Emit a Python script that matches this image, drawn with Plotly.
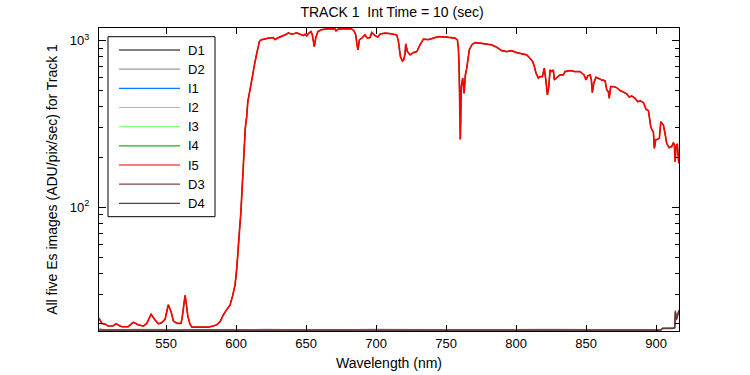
import math
import plotly.graph_objects as go

# ---------------- data ----------------
series_names = ["D1", "D2", "I1", "I2", "I3", "I4", "I5", "D3", "D4"]

es_wl = [
    502.1, 504.1, 506.4, 508.6, 512.1, 514.3, 517.1, 518.6, 522.9, 526.6,
    530.2, 533.8, 536.2, 539.3, 542.1, 544.5, 546.9, 549.3, 551.6, 553.6,
    555.2, 557.9, 560.7, 561.6, 562.9, 563.6, 564.3, 565.5, 567.1, 568.4,
    575.0, 580.2, 583.8, 586.2, 588.6, 590.9, 593.4, 595.7, 597.4, 599.3,
    600.5, 601.6, 602.4, 603.4, 604.1, 604.8, 605.2, 605.9, 606.6, 607.6,
    608.4, 609.3, 610.0, 610.7, 611.9, 612.9, 613.8, 614.8, 615.9, 616.6,
    617.9, 619.5, 620.7, 623.1, 626.6, 627.9, 630.2, 632.6, 635.0, 637.4,
    639.8, 643.4, 645.7, 648.1, 649.3, 650.5, 652.1, 653.6, 654.5, 655.2,
    655.9, 656.9, 658.4, 661.2, 665.9, 670.7, 671.4, 673.1, 682.6, 684.3,
    685.5, 686.4, 687.1, 688.1, 689.8, 692.1, 693.8, 695.7, 696.9, 699.3,
    701.2, 702.9, 706.4, 710.0, 713.6, 714.8, 715.9, 716.4, 717.4, 718.8,
    719.8, 720.7, 721.2, 722.4, 724.3, 726.6, 729.1, 731.4, 733.8, 737.4,
    740.9, 744.5, 750.5, 756.4, 758.1, 758.8, 759.3, 759.8, 760.2, 760.9,
    761.9, 762.9, 763.8, 764.8, 765.7, 766.6, 768.4, 770.7, 774.3, 779.1,
    782.6, 786.2, 789.8, 793.4, 796.9, 800.5, 804.1, 807.6, 810.0, 811.9,
    813.1, 814.3, 815.9, 817.1, 818.8, 820.2, 821.4, 822.4, 823.4, 824.3,
    825.5, 826.6, 827.4, 829.1, 831.4, 833.8, 835.0, 838.6, 842.1, 845.7,
    848.6, 850.0, 851.2, 852.9, 853.8, 854.5, 855.5, 857.1, 859.5, 861.2,
    863.6, 864.8, 865.9, 866.6, 867.6, 869.5, 871.9, 874.3, 876.6, 879.1,
    880.9, 882.6, 885.0, 886.9, 888.6, 891.0, 892.9, 894.5, 895.2, 896.2,
    897.1, 898.1, 898.8, 899.8, 901.2, 902.4, 903.4, 904.3, 905.2, 906.4,
    907.6, 909.3, 911.2, 912.4, 913.1, 913.6, 914.3, 915.2, 915.7, 916.2,
]

i5_values = [
    21.6, 20.1, 19.9, 19.4, 19.4, 20.0, 19.4, 19.2, 19.2, 20.4,
    19.7, 19.4, 20.1, 22.8, 21.1, 20.0, 20.3, 21.3, 26.0, 23.6,
    20.8, 20.1, 20.1, 22.0, 26.8, 29.6, 27.1, 22.3, 19.9, 19.1,
    19.1, 19.1, 19.4, 19.7, 20.6, 22.6, 24.4, 25.9, 29.1, 34.2,
    43.0, 54.1, 71.4, 92.0, 118.5, 156, 179, 237, 298, 350,
    430, 472, 518, 555, 622, 698, 784, 840, 920, 986,
    1010, 1020, 1020, 1034, 1042, 1014, 1042, 1057, 1082, 1112,
    1092, 1112, 1092, 1072, 1092, 1067, 1112, 1132, 1082, 965,
    920, 1034, 1132, 1164, 1176, 1176, 1143, 1176, 1176, 1143,
    1082, 942, 880, 1010, 1034, 1082, 1034, 1042, 1117, 1072,
    1048, 1095, 1108, 1102, 1092, 1082, 1000, 900, 802, 755,
    770, 830, 955, 859, 821, 847, 859, 942, 1020, 1014,
    1034, 1057, 1048, 1034, 1010, 900, 715, 298, 256, 530,
    595, 483, 622, 683, 766, 880, 942, 973, 965, 955,
    942, 913, 871, 859, 871, 847, 832, 821, 784, 748,
    698, 637, 595, 608, 608, 683, 568, 472, 530, 667,
    652, 667, 581, 595, 622, 622, 652, 661, 652, 652,
    622, 581, 614, 622, 581, 488, 555, 603, 590, 581,
    575, 506, 494, 451, 530, 530, 522, 501, 492, 479,
    458, 466, 451, 430, 436, 425, 387, 380, 350, 305,
    291, 284, 226, 254, 256, 260, 326, 319, 312, 278,
    242, 228, 231, 244, 237, 188, 231, 240, 197, 184,
]

# the other four illuminated images overlap I5 almost exactly
i1_values = i5_values
i2_values = i5_values
i3_values = i5_values
i4_values = i5_values

dark_wl = [502.1, 510, 530, 560, 590, 620, 660, 700, 740, 780,
           820, 860, 890, 903.5, 904.5, 912.0, 913.3, 913.8, 914.6, 915.4, 916.4]
d1_values = [18.5, 18.4, 18.4, 18.4, 18.4, 18.4, 18.4, 18.4, 18.4, 18.4,
             18.4, 18.4, 18.4, 18.4, 18.8, 18.8, 18.9, 23.5, 21.5, 22.5, 24.0]
d2_values = [18.5, 18.4, 18.5, 18.4, 18.4, 18.5, 18.4, 18.5, 18.4, 18.4,
             18.5, 18.4, 18.4, 18.4, 18.8, 18.8, 18.9, 23.0, 22.0, 22.0, 23.5]
d3_values = [18.4, 18.3, 18.4, 18.3, 18.4, 18.3, 18.4, 18.3, 18.4, 18.4,
             18.3, 18.4, 18.4, 18.4, 18.8, 18.8, 19.0, 24.0, 21.0, 23.0, 24.2]
d4_values = [18.3, 18.3, 18.3, 18.3, 18.3, 18.3, 18.3, 18.3, 18.3, 18.3,
             18.3, 18.3, 18.3, 18.3, 18.7, 18.7, 18.9, 23.8, 21.2, 22.8, 24.0]

x_tick_vals = [550, 600, 650, 700, 750, 800, 850, 900]
y_major_vals = [100, 1000]
y_major_text = ["10<sup>2</sup>", "10<sup>3</sup>"]
y_minor_vals = [20, 30, 40, 50, 60, 70, 80, 90, 200, 300, 400, 500, 600, 700, 800, 900]

x_range = [502.1, 916.4]
y_range_vals = [18.1, 1190]

# ---------------- styles ----------------
colors = {
    "D1": "#000000", "D2": "#999999", "I1": "#0a7cff", "I2": "#3fe3f5",
    "I3": "#80ff80", "I4": "#1fae1f", "I5": "#ff0000", "D3": "#7f4545",
    "D4": "#6a3a3a",
}
widths = {"D1": 1.2, "D2": 1.2, "I1": 1.0, "I2": 1.0, "I3": 1.0, "I4": 1.0,
          "I5": 1.7, "D3": 1.2, "D4": 1.2}
series_data = {
    "D1": (dark_wl, d1_values), "D2": (dark_wl, d2_values),
    "I1": (es_wl, i1_values), "I2": (es_wl, i2_values),
    "I3": (es_wl, i3_values), "I4": (es_wl, i4_values),
    "I5": (es_wl, i5_values),
    "D3": (dark_wl, d3_values), "D4": (dark_wl, d4_values),
}

FONT = "Liberation Sans, Arial, sans-serif"

fig = go.Figure()
for name in series_names:
    xs, ys = series_data[name]
    fig.add_trace(go.Scatter(
        x=xs, y=ys, mode="lines", name=name,
        line=dict(color=colors[name], width=widths[name]),
        showlegend=False,
    ))

# plot area geometry in pixels
W, H = 750, 375
L, R, T, B = 99, 679, 28, 331
pw, ph = R - L, B - T

def px_x(x):
    return (x - L) / pw

def px_y(y):
    return (B - y) / ph

# manual legend (MATLAB-style, long line samples)
leg_x0, leg_x1, leg_y0, leg_y1 = 108, 215, 36.7, 216.7
shapes = [dict(type="rect", xref="paper", yref="paper",
               x0=px_x(leg_x0), x1=px_x(leg_x1), y0=px_y(leg_y1), y1=px_y(leg_y0),
               line=dict(color="black", width=1), fillcolor="white", layer="above")]
annotations = []
for k, name in enumerate(series_names):
    yy = 50 + k * 19.17
    shapes.append(dict(type="line", xref="paper", yref="paper",
                       x0=px_x(119), x1=px_x(180), y0=px_y(yy), y1=px_y(yy),
                       line=dict(color=colors[name], width=1.2), layer="above"))
    annotations.append(dict(xref="paper", yref="paper", x=px_x(186), y=px_y(yy),
                            text=name, showarrow=False, xanchor="left", yanchor="middle",
                            font=dict(family=FONT, size=13, color="black")))

fig.update_layout(
    width=W, height=H,
    margin=dict(l=L, r=W - R, t=T, b=H - B, pad=0, autoexpand=False),
    paper_bgcolor="white", plot_bgcolor="white",
    font=dict(family=FONT, size=12, color="black"),
    title=dict(text="TRACK 1  Int Time = 10 (sec)", x=px_x(392), xref="paper",
               y=1 - 12.5 / H, yref="container", xanchor="center", yanchor="middle",
               font=dict(family=FONT, size=14, color="black")),
    shapes=shapes, annotations=annotations,
)

fig.update_xaxes(
    range=x_range, tickmode="array", tickvals=x_tick_vals,
    ticks="inside", ticklen=6, tickwidth=1, tickcolor="black",
    showline=True, linecolor="black", linewidth=1, mirror="ticks",
    showgrid=False, zeroline=False, automargin=False,
    tickfont=dict(family=FONT, size=13),
    title=dict(text="Wavelength (nm)", font=dict(family=FONT, size=14), standoff=8),
)

fig.update_yaxes(
    type="log", range=[math.log10(v) for v in y_range_vals],
    tickmode="array", tickvals=y_major_vals, ticktext=y_major_text,
    ticks="inside", ticklen=7, tickwidth=1, tickcolor="black",
    minor=dict(tickmode="array", tickvals=y_minor_vals, ticks="inside",
               ticklen=4, tickcolor="black", tickwidth=1, showgrid=False),
    showline=True, linecolor="black", linewidth=1, mirror="ticks",
    showgrid=False, zeroline=False, automargin=False,
    tickfont=dict(family=FONT, size=13),
    ticklabelstandoff=6,
    title=dict(text="All five Es images (ADU/pix/sec) for Track 1",
               font=dict(family=FONT, size=14), standoff=8),
)

# remove the browser's default 8px page margin so the figure sits at (0, 0)
fig.write_html("out.html",
               config={"displayModeBar": False},
               post_script="document.body.style.margin='0';document.body.style.overflow='hidden';")
